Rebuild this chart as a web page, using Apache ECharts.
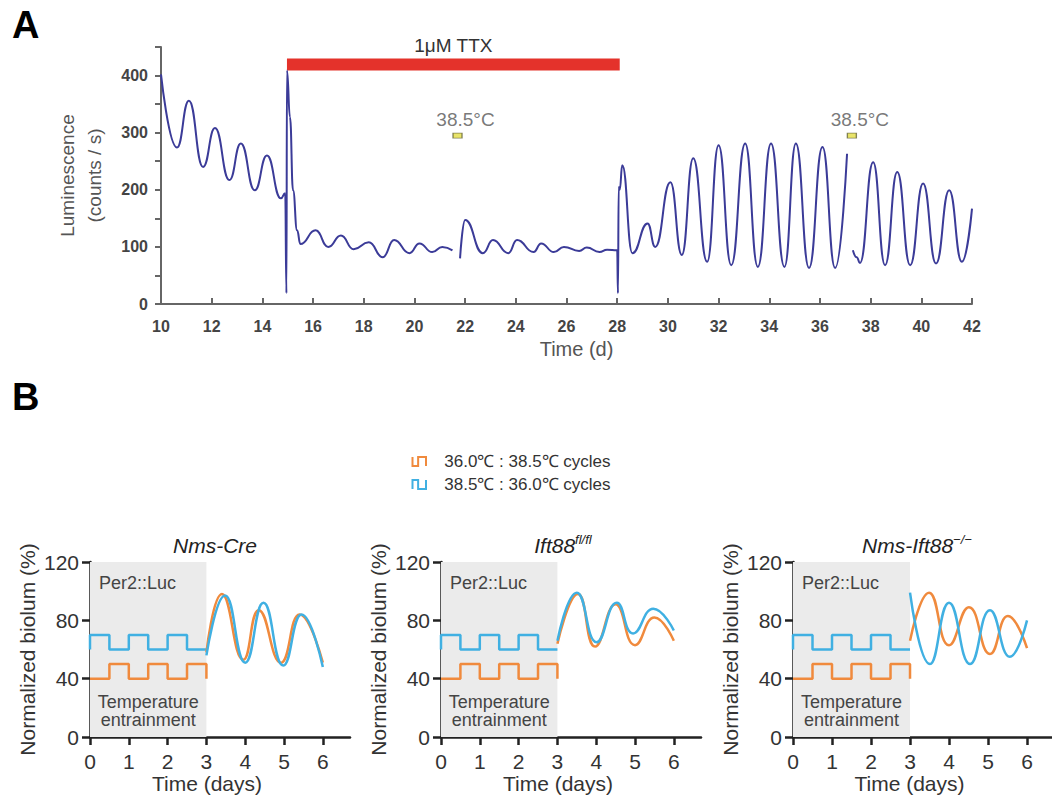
<!DOCTYPE html>
<html><head><meta charset="utf-8">
<script src="https://cdn.jsdelivr.net/npm/echarts@6/dist/echarts.min.js"></script>
<style>html,body{margin:0;padding:0;background:#fff}#c{width:1052px;height:798px}</style>
</head><body><div id="c"></div>
<script>
// ---------- Panel A data (day, counts/s) ----------
const traceSeg1 = [[10.0,402],[10.63,274],[11.1,356],[11.66,240],[12.13,308],[12.7,217],[13.15,281],[13.7,199],[14.18,260],[14.73,185],[14.9,194],[14.95,19],[14.97,409],[15.09,327],[15.21,199],[15.37,129],[15.5,105],[16.1,129],[16.6,100],[17.1,120],[17.6,96],[18.2,108],[18.75,82],[19.2,112],[19.8,89],[20.2,106],[20.7,91],[21.1,100],[21.5,94]];
const traceSeg2 = [[21.8,80],[22.0,147],[22.7,89],[23.1,112],[23.7,89],[24.05,112],[24.7,91],[25.0,106],[25.5,91],[25.9,100],[26.5,93],[26.8,99],[27.3,91],[27.6,95],[28.0,94],[28.03,19],[28.06,205],[28.1,200],[28.2,243],[28.6,89],[29.2,141],[29.5,100],[30.1,213],[30.55,86],[31.0,255],[31.55,74],[32.0,278],[32.5,68],[33.05,281],[33.55,65],[34.07,281],[34.6,65],[35.05,281],[35.57,63],[36.1,275],[36.6,63],[37.07,263]];
const traceSeg3 = [[37.3,94],[37.45,82],[37.58,72],[38.1,248],[38.57,68],[39.05,231],[39.56,68],[40.07,211],[40.58,71],[41.1,199],[41.6,74],[42.0,167]];
const ttxDays = [14.97, 28.1];
const ttxBarLevels = [409, 430];
const ttxLabel = '1μM TTX';
const heatPulses = [[21.7,295],[37.26,295]];
const heatLabel = '38.5°C';

// ---------- Panel B data (day, normalized biolum %) ----------
const nameOrange = '36.0℃ : 38.5℃ cycles';
const nameBlue = '38.5℃ : 36.0℃ cycles';
const panelTitles = ['{i|Nms-Cre}', '{i|Ift88}{s|fl/fl}', '{i|Nms-Ift88}{s|−/−}'];
const cycleOrange = [[0,40],[0.5,50],[1,40],[1.5,50],[2,40],[2.5,50],[3,50],[3,40]];
const cycleBlue = [[0,60],[0,70],[0.5,60],[1,70],[1.5,60],[2,70],[2.5,60],[3,60]];
const entrainDays = [0, 3];
const b1Orange = [[3,58],[3.4,98],[3.95,53],[4.35,87],[4.92,51],[5.4,84],[6.0,51]];
const b1Blue   = [[3,56],[3.48,97],[4.0,51],[4.47,92],[4.98,49],[5.45,84],[6.0,48]];
const b2Orange = [[3,64],[3.53,98],[3.97,62],[4.5,91],[5.0,63],[5.5,82],[6.0,66]];
const b2Blue   = [[3,66],[3.5,99],[4.01,65],[4.53,92],[4.95,71],[5.47,88],[6.0,73]];
const b3Orange = [[3,66],[3.49,99],[4.0,63],[4.51,89],[5.05,57],[5.51,83],[6.0,61]];
const b3Blue   = [[3,99],[3.51,50],[4.0,92],[4.54,50],[5.05,87],[5.56,55],[6.0,80]];
const bCurves = [[b1Orange,b1Blue],[b2Orange,b2Blue],[b3Orange,b3Blue]];
const bXTicks = [0,1,2,3,4,5,6];

// ---------- styling ----------
const FF = "'Liberation Sans', Arial, sans-serif";
const traceColor = '#3b3b98';
const orange = '#f08a3d';
const blue = '#40b0e2';
const bGrids = [{left:90,width:260,max:6.7},{left:441,width:260,max:6.7},{left:793,width:259,max:6.64}];
const titleX = [215, 563, 917];

const grids = [{left:161, top:47, width:811, height:257}];
const xAxes = [{
  gridIndex:0, type:'value', min:10, max:42, interval:2,
  name:'Time (d)', nameLocation:'middle', nameGap:35,
  nameTextStyle:{fontFamily:FF, fontSize:20, color:'#555', padding:[0,0,0,20]},
  axisLine:{lineStyle:{color:'#666', width:2}},
  axisTick:{inside:true, length:6, lineStyle:{color:'#666', width:2}},
  axisLabel:{fontFamily:FF, fontSize:16, fontWeight:'bold', color:'#444', margin:14},
  splitLine:{show:false}
}];
const yAxes = [{
  gridIndex:0, type:'value', min:0, max:450, interval:50,
  name:'Luminescence\n(counts / s)', nameLocation:'middle', nameGap:53,
  nameTextStyle:{fontFamily:FF, fontSize:19, color:'#555', lineHeight:27},
  axisLine:{show:true, lineStyle:{color:'#666', width:2}},
  axisTick:{show:true, length:6, lineStyle:{color:'#666', width:2}},
  axisLabel:{fontFamily:FF, fontSize:16, fontWeight:'bold', color:'#444', margin:13,
    formatter:v => (v % 100 === 0 ? String(v) : '')},
  splitLine:{show:false}
}];

const series = [];
[traceSeg1, traceSeg2, traceSeg3].forEach((seg, i) => {
  const s = {type:'line', xAxisIndex:0, yAxisIndex:0, data:seg, showSymbol:false, symbol:'none',
    smooth:0.5, smoothMonotone:'x', lineStyle:{color:traceColor, width:2}, z:3, silent:true};
  if (i === 0) {
    s.markArea = {silent:true, itemStyle:{color:'#e4322b'},
      label:{show:true, position:'top', distance:3, fontFamily:FF, fontSize:19, color:'#333', formatter:'{b}'},
      data:[[{coord:[ttxDays[0], ttxBarLevels[0]], name:ttxLabel}, {coord:[ttxDays[1], ttxBarLevels[1]]}]]};
  }
  series.push(s);
});
series.push({type:'scatter', xAxisIndex:0, yAxisIndex:0, data:heatPulses, symbol:'rect', symbolSize:[9,5],
  itemStyle:{color:'#e3dd45', borderColor:'#66663a', borderWidth:1}, silent:true, z:4,
  label:{show:true, formatter:heatLabel, position:'top', distance:4, offset:[8,0], fontFamily:FF, fontSize:19, color:'#555'}});

bGrids.forEach((g, k) => {
  const gi = k + 1;
  grids.push({left:g.left, top:562, width:g.width, height:175});
  xAxes.push({gridIndex:gi, type:'value', min:0, max:g.max,
    name:'Time (days)', nameLocation:'middle', nameGap:32,
    nameTextStyle:{fontFamily:FF, fontSize:21, color:'#333', padding:[0,26,0,0]},
    axisLine:{lineStyle:{color:'#222', width:2.5}},
    axisTick:{length:8, lineStyle:{color:'#222', width:2.5}, customValues:bXTicks},
    axisLabel:{fontFamily:FF, fontSize:21, color:'#333', margin:14, customValues:bXTicks},
    splitLine:{show:false}});
  yAxes.push({gridIndex:gi, type:'value', min:0, max:120, interval:40,
    name:'Normalized biolum (%)', nameLocation:'middle', nameGap:52,
    nameTextStyle:{fontFamily:FF, fontSize:21, color:'#333'},
    axisLine:{show:true, lineStyle:{color:'#222', width:2.5}},
    axisTick:{show:true, length:8, lineStyle:{color:'#222', width:2.5}},
    axisLabel:{fontFamily:FF, fontSize:21, color:'#333', margin:11},
    splitLine:{show:false}});
  series.push({type:'line', xAxisIndex:gi, yAxisIndex:gi, data:[], silent:true,
    markArea:{silent:true,
      data:[
        [{coord:[entrainDays[0],0], name:'Per2::Luc', itemStyle:{color:'#ebebeb'},
          label:{show:true, position:[9,12], align:'left', verticalAlign:'top', fontFamily:FF, fontSize:18, color:'#444', formatter:'{b}'}},
         {coord:[entrainDays[1],120]}],
        [{coord:[entrainDays[0],0], name:'Temperature\nentrainment', itemStyle:{color:'rgba(0,0,0,0)'},
          label:{show:true, position:'insideBottom', distance:8, fontFamily:FF, fontSize:18, lineHeight:18, color:'#444', formatter:'{b}'}},
         {coord:[entrainDays[1],120]}]
      ]}});
  series.push({name:nameOrange, type:'line', xAxisIndex:gi, yAxisIndex:gi, data:cycleOrange, step:'end',
    symbol:'none', lineStyle:{color:orange, width:2.5}, itemStyle:{color:orange}, z:3, silent:true});
  series.push({name:nameBlue, type:'line', xAxisIndex:gi, yAxisIndex:gi, data:cycleBlue, step:'end',
    symbol:'none', lineStyle:{color:blue, width:2.5}, itemStyle:{color:blue}, z:3, silent:true});
  series.push({name:nameOrange, type:'line', xAxisIndex:gi, yAxisIndex:gi, data:bCurves[k][0], smooth:0.5,
    symbol:'none', lineStyle:{color:orange, width:2.5}, itemStyle:{color:orange}, z:3, silent:true});
  series.push({name:nameBlue, type:'line', xAxisIndex:gi, yAxisIndex:gi, data:bCurves[k][1], smooth:0.5,
    symbol:'none', lineStyle:{color:blue, width:2.5}, itemStyle:{color:blue}, z:4, silent:true});
});

const graphics = [
  {type:'text', x:12, y:25, style:{text:'A', font:"bold 38px 'Liberation Sans', Arial, sans-serif", fill:'#000', align:'left', verticalAlign:'middle'}},
  {type:'text', x:12, y:397, style:{text:'B', font:"bold 38px 'Liberation Sans', Arial, sans-serif", fill:'#000', align:'left', verticalAlign:'middle'}}
];
panelTitles.forEach((t, k) => {
  graphics.push({type:'text', x:titleX[k], y:545, style:{text:t, align:'center', verticalAlign:'middle',
    rich:{i:{fontFamily:FF, fontSize:21, fontStyle:'italic', fill:'#222', color:'#222'},
          s:{fontFamily:FF, fontSize:13, fontStyle:'italic', fill:'#222', color:'#222', padding:[0,0,12,0]}}}});
});

const chart = echarts.init(document.getElementById('c'), null, {renderer:'svg'});
chart.setOption({
  animation:false,
  backgroundColor:'#fff',
  grid:grids, xAxis:xAxes, yAxis:yAxes, series:series, graphic:graphics,
  legend:{orient:'vertical', left:405, top:448, itemWidth:14, itemHeight:9, itemGap:6, selectedMode:false,
    textStyle:{fontFamily:FF, fontSize:17, color:'#333', padding:[0,0,0,13]},
    data:[
      {name:nameOrange, icon:'path://M1,1 L1,9 L6,9 L6,1 L13,1 L13,9', itemStyle:{color:'none', borderColor:orange, borderWidth:2}},
      {name:nameBlue, icon:'path://M1,9 L1,1 L6,1 L6,9 L13,9 L13,1', itemStyle:{color:'none', borderColor:blue, borderWidth:2}}
    ]}
});
</script></body></html>
